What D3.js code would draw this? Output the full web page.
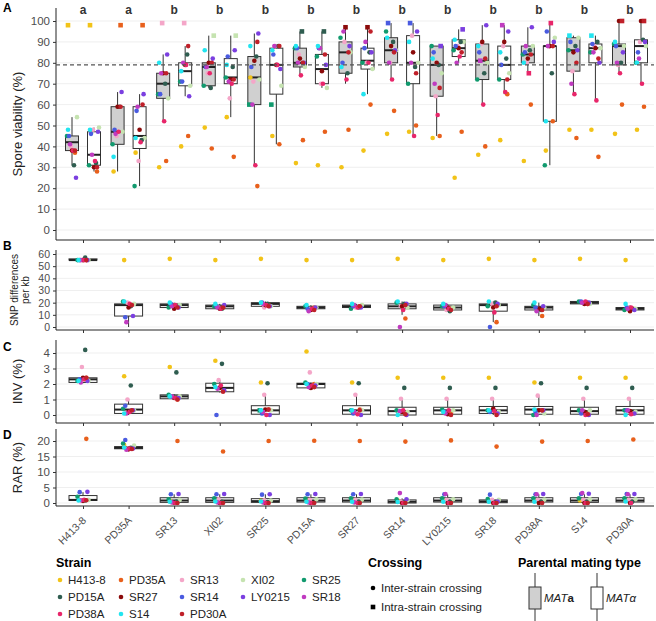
<!DOCTYPE html>
<html><head><meta charset="utf-8">
<script src="https://cdn.jsdelivr.net/npm/d3@7"></script>
<style>body{margin:0;background:#fff}svg{font-family:"Liberation Sans",Arial,sans-serif}</style>
</head><body><svg id="c" width="656" height="621"></svg>
<script>
const strains = ["H413-8","PD35A","SR13","XI02","SR25","PD15A","SR27","SR14","LY0215","SR18","PD38A","S14","PD30A"];
const colors = ["#f2c318","#e8601c","#f4a6c8","#c5e3b0","#119a6e","#2f5d50","#8b0a0a","#4a5be0","#7b3fe0","#c03bc0","#e8266a","#22e5f0","#c0202a"];
const letters = ["a","a","b","b","b","b","b","b","b","b","b","b","b"];
const jitter = [-4,3,-1,5,-5,2,0,-3,4,-2,1,-4,3];

// Panel A: spore viability, [lo,q1,med,q3,hi] per strain
const boxA_a = [[31,38,42,45,54],[28,41,47,59,66],[52,63,70,75,84],[68,69,78,80,93],[31,60,73,83,94],[74,78,80,87,95],[70,75,85,90,97],[72,80,86,92,99],[45,64,79,88,88],[60,72,81,89,98],[75,80,84,88,97],[65,76,86,92,93],[75,79,88,89,100]];
const boxA_b = [[28,31,36,47,49],[21,39,45,59,65],[64,69,76,80,88],[54,70,73,82,93],[41,65,79,87,88],[68,70,77,84,95],[65,77,81,87,97],[45,70,80,93,99],[80,83,87,91,96],[65,72,79,88,98],[31,52,88,88,99],[62,80,87,89,93],[70,80,88,91,100]];
const ptsA_a = [[98,37,40,54,45,31,38,45,25,41,38,48,38],[28,98,45,47,41,59,59,48,66,46,47,35,59],[30,33,99,63,65,70,75,65,84,75,52,80,75],[49,39,75,93,69,68,80,78,82,78,75,86,80],[73,21,71,72,60,83,81,78,94,60,31,88,90],[32,43,84,78,87,95,82,87,80,80,74,88,80],[30,48,90,85,92,75,97,80,88,95,72,78,85],[46,57,80,86,95,90,88,99,86,80,72,92,85],[44,45,64,75,88,79,80,85,88,70,55,82,68],[36,40,89,80,72,75,90,85,98,81,60,88,82],[33,60,80,88,84,86,82,85,97,88,75,80,84],[48,44,76,92,86,88,85,90,86,70,65,93,80],[46,60,79,88,89,80,100,88,85,80,75,90,100]];
const ptsA_b = [[98,28,48,49,31,32,30,46,47,36,33,48,30],[37,98,33,44,21,43,48,57,65,59,42,44,60],[40,45,99,69,71,84,79,71,64,80,79,76,88],[54,35,63,93,73,78,72,83,86,71,70,79,72],[45,41,88,69,60,88,79,84,77,88,79,86,88],[31,47,70,68,83,95,76,87,79,87,70,88,84],[38,60,80,77,80,85,97,87,85,90,80,65,95],[47,50,93,80,70,78,85,99,95,80,45,90,75],[25,47,88,90,86,90,87,88,96,80,83,91,85],[43,65,88,75,72,82,90,79,95,98,66,85,72],[38,52,88,92,31,75,88,95,90,88,99,52,88],[48,35,88,87,85,90,87,89,80,85,62,93,82],[48,59,90,88,80,91,100,85,90,82,70,80,100]];

// Panel B: SNP differences per kb
const boxB = [[55,55,55,56,57],[0,9,18,19,21],[15,16,18,19,20],[14,15,17,18,19],[16,17,19,20,21],[13,15,16,17,18],[15,16,17,18,19],[10,15,17,19,21],[13,14,16,18,19],[4,13,18,19,21],[9,14,16,17,20],[18,19,20,21,21],[13,14,15,16,18]];
const ptsB = [[null,55,55,55,55,57,55,55,55,55,55,55,55],[55,null,20,19,21,17,16,8,9,4,19,21,18],[56,17,null,18,16,17,15,19,16,17,18,20,16],[55,16,16,null,17,15,15,17,18,16,15,19,16],[56,18,16,17,null,19,18,20,17,19,18,20,17],[55,16,15,16,17,null,14,15,16,13,15,18,14],[55,17,16,18,15,16,null,17,16,18,16,19,17],[56,7,17,16,20,19,17,null,19,0,14,21,18],[55,15,14,16,17,13,16,17,null,18,15,19,14],[56,4,19,18,17,20,16,0,19,null,12,21,17],[55,9,15,16,18,14,15,16,17,13,null,20,14],[56,19,20,19,21,20,19,21,20,20,21,null,19],[55,15,16,15,14,15,13,16,14,15,16,19,null]];

// Panel C: INV (%)
const boxC = [[2.05,2.1,2.3,2.4,2.45],[0,0.1,0.35,0.7,1.0],[1.0,1.05,1.2,1.3,1.35],[1.45,1.5,1.75,2.05,2.25],[0,0.05,0.3,0.6,1.3],[1.7,1.75,2.0,2.05,2.1],[0,0.05,0.3,0.6,1.3],[0,0,0.25,0.5,1.05],[0,0.05,0.3,0.5,1.05],[0,0.1,0.3,0.55,1.05],[0,0.05,0.35,0.55,1.25],[0,0.05,0.25,0.5,1.05],[0,0.05,0.3,0.55,1.05]];
const ptsC = [[null,2.4,3.1,2.2,2.2,4.2,2.4,2.3,2.2,2.1,2.3,2.2,2.4],[2.5,null,1.0,0.3,0.4,1.9,0.2,0.6,0.3,0.1,0.2,0.1,0.3],[3.1,1.0,null,1.2,1.3,2.75,1.1,1.2,1.1,1.2,1.1,1.2,1.0],[3.5,1.55,2.25,null,2.0,3.3,1.75,0.0,1.6,1.7,1.9,1.8,1.5],[2.1,0.35,1.3,0.3,0.3,2.05,0.35,0.1,0.0,0.2,0.0,0.3,0.35],[4.1,2.0,2.75,2.0,2.1,null,1.75,2.0,1.9,1.8,1.9,2.0,1.8],[2.1,0.35,1.3,0.3,0.3,2.05,null,0.1,0.0,0.2,0.05,0.3,0.3],[2.4,0.1,1.05,0.2,0.3,1.75,0.2,null,0.0,0.25,0.3,0.0,0.05],[2.4,0.1,1.05,0.3,0.35,1.75,0.05,0.2,null,0.1,0.3,0.2,0.0],[2.4,0.1,1.05,0.2,0.3,1.75,0.4,0.2,0.1,null,0.25,0.3,0.0],[2.1,0.3,1.25,0.1,0.0,2.05,0.3,0.2,0.3,0.0,null,0.35,0.3],[2.4,0.1,1.05,0.3,0.3,1.75,0.2,0.1,0.0,0.3,0.0,null,0.05],[2.4,0.1,1.05,0.2,0.3,1.75,0.25,0.3,0.1,0.3,0.05,0.0,null]];

// Panel D: RAR (%)
const boxD = [[0.5,0.8,1.0,2.4,3.5],[17.2,17.5,17.8,18.2,18.3],[0,0.2,0.8,1.7,2.8],[0,0.2,0.8,1.7,2.8],[0,0.2,0.6,1.4,2.8],[0,0.3,0.8,1.7,2.8],[0,0.3,0.8,1.7,2.8],[0,0,0.4,1.0,1.5],[0,0.3,0.8,1.7,2.8],[0,0.1,0.5,1.0,1.5],[0,0.3,0.8,1.7,2.8],[0,0.2,0.8,1.7,2.8],[0,0.3,0.8,1.7,2.8]];
const ptsD = [[null,20.7,0.8,1.0,2.0,0.8,0.7,3.5,3.6,0.9,1.0,0.8,0.9],[18.7,null,17.6,18.5,19.2,17.8,17.3,20.3,17.6,17.2,17.6,17.9,17.4],[0.8,20.0,null,1.0,1.2,0.5,0.1,2.8,2.9,0.2,0.0,0.4,0.0],[0.8,16.6,1.2,null,1.5,0.4,0.0,2.8,2.9,0.2,0.0,0.5,0.0],[0.7,20.0,0.9,0.8,null,0.3,0.0,2.7,2.8,0.2,0.0,0.5,0.0],[0.9,20.1,1.0,1.2,1.4,null,0.0,2.8,2.9,0.2,0.0,0.4,0.0],[0.8,20.0,1.0,1.1,1.5,0.4,null,2.8,2.9,0.2,0.0,0.4,0.0],[0.8,19.8,0.5,0.9,1.2,0.2,0.0,null,1.2,3.2,0.0,0.3,0.0],[0.9,20.2,1.0,1.2,1.5,0.4,0.0,2.8,null,2.9,0.0,0.4,0.0],[0.8,18.2,1.0,1.0,1.3,0.2,0.0,2.7,0.5,null,0.0,0.4,0.0],[0.8,19.8,1.0,1.1,1.5,0.4,0.0,2.8,2.9,2.8,null,0.4,0.0],[0.8,20.0,1.0,1.2,1.5,0.4,0.0,2.9,3.0,3.2,0.0,null,0.0],[0.8,20.5,1.0,1.2,1.5,0.4,0.0,2.9,2.9,2.8,0.0,0.5,null]];

const svg = d3.select("#c");
const x = d3.scalePoint().domain(strains).range([83, 630]);
const left = 56, right = 654;
const grey = "#4d4d4d";

function panel(y, ticks, title, top, bottom, label, labelY, small) {
  svg.append("g").selectAll("line").data(ticks).join("line")
    .attr("x1", left).attr("x2", right).attr("y1", d => y(d)).attr("y2", d => y(d))
    .attr("stroke", "#ebebeb").attr("stroke-width", 0.8);
  const ax = svg.append("g").attr("transform", `translate(${left},0)`)
    .call(d3.axisLeft(y).tickValues(ticks).tickSize(3).tickFormat(d3.format("d")));
  ax.select(".domain").attr("d", `M0,${top}V${bottom}`).attr("stroke", "#222");
  ax.selectAll("text").attr("fill", grey).attr("font-size", small ? 10.5 : 11.5);
  ax.selectAll(".tick line").attr("stroke", "#333");
  const bx = svg.append("g").attr("transform", `translate(0,${bottom})`)
    .call(d3.axisBottom(x).tickSize(3).tickFormat(""));
  bx.select(".domain").attr("d", `M${left},0H${right}`).attr("stroke", "#222");
  bx.selectAll(".tick line").attr("stroke", "#333");
  svg.append("text").attr("x", 3).attr("y", labelY).text(label)
    .attr("font-weight", "bold").attr("font-size", 12);
  const cy = (top + bottom) / 2;
  if (Array.isArray(title)) {
    svg.append("text").attr("transform", `translate(22,${cy}) rotate(-90)`).attr("text-anchor", "middle")
      .attr("font-size", 10).attr("fill", "#222").selectAll("tspan").data(title).join("tspan")
      .attr("x", 0).attr("dy", (d, i) => i ? 11 : -4).text(d => d);
  } else {
    svg.append("text").attr("transform", `translate(${small ? 27 : 22},${cy}) rotate(-90)`).attr("text-anchor", "middle")
      .attr("font-size", 13).attr("fill", "#222").text(title);
  }
}

function boxes(y, stats, off, w, fill) {
  const g = svg.append("g");
  stats.forEach((s, i) => {
    const cx = x(strains[i]) + off;
    g.append("line").attr("x1", cx).attr("x2", cx).attr("y1", y(s[0])).attr("y2", y(s[4])).attr("stroke", "#333");
    g.append("rect").attr("x", cx - w / 2).attr("width", w).attr("y", y(s[3])).attr("height", Math.max(1, y(s[1]) - y(s[3])))
      .attr("fill", fill).attr("stroke", "#333").attr("stroke-width", 1);
    g.append("line").attr("x1", cx - w / 2).attr("x2", cx + w / 2).attr("y1", y(s[2])).attr("y2", y(s[2])).attr("stroke", "#222").attr("stroke-width", 2);
  });
}

function points(y, pts, off, spread) {
  const g = svg.append("g");
  pts.forEach((row, i) => {
    row.forEach((v, j) => {
      if (v === null) return;
      const cx = x(strains[i]) + off + jitter[j] * spread;
      if (i === j) {
        g.append("rect").attr("x", cx - 2.3).attr("y", y(v) - 2.3).attr("width", 4.6).attr("height", 4.6).attr("fill", colors[j]);
      } else {
        g.append("circle").attr("cx", cx).attr("cy", y(v)).attr("r", 2.3).attr("fill", colors[j]);
      }
    });
  });
}

// Panel A
const yA = d3.scaleLinear().domain([0, 100]).range([230, 21]);
panel(yA, d3.range(0, 101, 10), "Spore viability (%)", 8, 240, "A", 12, false);
boxes(yA, boxA_a, -11, 13, "#d0d0d0");
boxes(yA, boxA_b, 11, 13, "#ffffff");
points(yA, ptsA_a, -11, 1);
points(yA, ptsA_b, 11, 1);
svg.append("line").attr("x1", left).attr("x2", right).attr("y1", yA(79)).attr("y2", yA(79))
  .attr("stroke", "#555").attr("stroke-dasharray", "4,3").attr("stroke-width", 1.2);
svg.append("g").selectAll("text").data(letters).join("text")
  .attr("x", (d, i) => x(strains[i])).attr("y", 14).attr("text-anchor", "middle")
  .attr("font-weight", "bold").attr("font-size", 12).attr("fill", "#333").text(d => d);

// Panel B
const yB = d3.scaleLinear().domain([0, 60]).range([327, 254]);
panel(yB, d3.range(0, 61, 10), ["SNP differences", "per kb"], 250, 330, "B", 250, true);
boxes(yB, boxB, 0, 28, "#fff");
points(yB, ptsB, 0, 1.1);

// Panel C
const yC = d3.scaleLinear().domain([0, 4]).range([415, 353]);
panel(yC, d3.range(0, 5), "INV (%)", 340, 423, "C", 351, false);
boxes(yC, boxC, 0, 28, "#fff");
points(yC, ptsC, 0, 1.1);

// Panel D
const yD = d3.scaleLinear().domain([0, 20]).range([503, 441]);
panel(yD, d3.range(0, 21, 5), "RAR (%)", 429, 506, "D", 439, false);
boxes(yD, boxD, 0, 28, "#fff");
points(yD, ptsD, 0, 1.1);

// x labels
svg.append("g").selectAll("text").data(strains).join("text")
  .attr("transform", d => `translate(${x(d) + 4},${521}) rotate(-45)`)
  .attr("text-anchor", "end").attr("font-size", 10.5).attr("fill", grey).text(d => d);

// Legend: Strain
svg.append("text").attr("x", 56).attr("y", 567).text("Strain").attr("font-weight", "bold").attr("font-size", 12.5);
const lg = svg.append("g").selectAll("g").data(strains).join("g")
  .attr("transform", (d, i) => `translate(${60 + (i % 5) * 61},${580 + Math.floor(i / 5) * 17})`);
lg.append("circle").attr("r", 2.3).attr("fill", (d, i) => colors[i]);
lg.append("text").attr("x", 8).attr("y", 4).attr("font-size", 11.5).attr("fill", "#222").text(d => d);

// Legend: Crossing
svg.append("text").attr("x", 368).attr("y", 567).text("Crossing").attr("font-weight", "bold").attr("font-size", 12.5);
svg.append("circle").attr("cx", 373).attr("cy", 588).attr("r", 2.3).attr("fill", "#000");
svg.append("text").attr("x", 381).attr("y", 592).attr("font-size", 11.5).attr("fill", "#222").text("Inter-strain crossing");
svg.append("rect").attr("x", 370.7).attr("y", 604.7).attr("width", 4.6).attr("height", 4.6).attr("fill", "#000");
svg.append("text").attr("x", 381).attr("y", 611).attr("font-size", 11.5).attr("fill", "#222").text("Intra-strain crossing");

// Legend: Parental mating type
svg.append("text").attr("x", 518).attr("y", 567).text("Parental mating type").attr("font-weight", "bold").attr("font-size", 12.5);
[[535, "#d0d0d0", "a", "normal"], [597, "#fff", "α", "italic"]].forEach(([cx, f, s, st]) => {
  svg.append("line").attr("x1", cx).attr("x2", cx).attr("y1", 573).attr("y2", 621).attr("stroke", "#333");
  svg.append("rect").attr("x", cx - 6).attr("y", 587).attr("width", 12).attr("height", 22).attr("fill", f).attr("stroke", "#333");
  const t = svg.append("text").attr("x", cx + 9).attr("y", 602).attr("font-size", 11.5).attr("fill", "#222");
  t.append("tspan").attr("font-style", "italic").text("MAT");
  t.append("tspan").attr("font-style", st).attr("font-weight", st === "normal" ? "bold" : "normal").text(s);
});
</script>
</body></html>
